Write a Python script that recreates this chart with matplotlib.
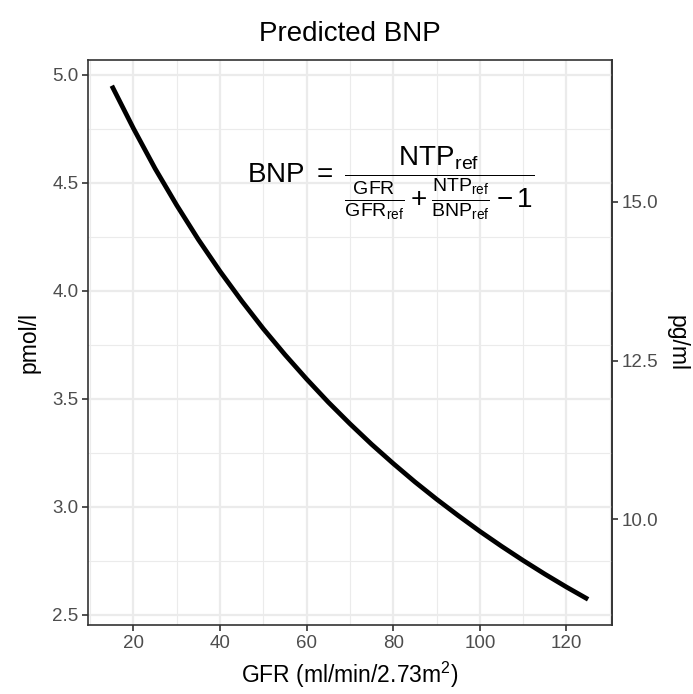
import numpy as np
import matplotlib
matplotlib.use("Agg")
import matplotlib.pyplot as plt
from matplotlib.ticker import MultipleLocator, FormatStrFormatter

plt.rcParams['font.family'] = ['Liberation Sans', 'DejaVu Sans']
plt.rcParams['mathtext.fontset'] = 'custom'
plt.rcParams['mathtext.rm'] = 'Liberation Sans'
plt.rcParams['mathtext.it'] = 'Liberation Sans'
plt.rcParams['mathtext.bf'] = 'Liberation Sans:bold'

# values
gfr = [15, 20, 25, 30, 35, 40, 45, 50, 55, 60, 65, 70,
       75, 80, 85, 90, 95, 100, 105, 110, 115, 120, 125]
bnp_pmol = [4.950, 4.752, 4.566, 4.396, 4.237, 4.090, 3.953, 3.824, 3.704, 3.591,
            3.484, 3.384, 3.289, 3.200, 3.115, 3.035, 2.959, 2.886, 2.817, 2.751,
            2.688, 2.628, 2.571]
pg_per_pmol = 3.4
pg_ticks = [10.0, 12.5, 15.0]

grey20 = '#333333'
grey30 = '#4d4d4d'
grid_col = '#ebebeb'

fig = plt.figure(figsize=(6.93, 6.94), dpi=100)
ax = fig.add_axes([0.127, 0.0994, 0.756, 0.8141])

ax.plot(gfr, bnp_pmol, color='black', lw=3.4, solid_capstyle='butt',
        solid_joinstyle='round', zorder=3)
ax.margins(0.05)

ax.xaxis.set_major_locator(MultipleLocator(20))
ax.xaxis.set_minor_locator(MultipleLocator(10))
ax.yaxis.set_major_locator(MultipleLocator(0.5))
ax.yaxis.set_minor_locator(MultipleLocator(0.25))
ax.yaxis.set_major_formatter(FormatStrFormatter('%.1f'))

ax.grid(which='major', color=grid_col, lw=1.6, zorder=0)
ax.grid(which='minor', color=grid_col, lw=0.8, zorder=0)
ax.set_axisbelow(True)
ax.tick_params(which='minor', length=0)
ax.tick_params(which='major', length=4, width=1.2, color=grey20,
               labelsize=13.5, labelcolor=grey30, pad=3)
for s in ax.spines.values():
    s.set_color(grey20)
    s.set_linewidth(1.2)

sec = ax.secondary_yaxis('right', functions=(lambda v: v * pg_per_pmol,
                                             lambda v: v / pg_per_pmol))
sec.set_yticks(pg_ticks)
sec.yaxis.set_major_formatter(FormatStrFormatter('%.1f'))
sec.tick_params(which='major', length=4, width=1.2, color=grey20,
                labelsize=13.5, labelcolor=grey30, pad=3)
sec.tick_params(which='minor', length=0)
sec.spines['right'].set_color(grey20)
sec.spines['right'].set_linewidth(1.2)
sec.set_ylabel('pg/ml', fontsize=16.5, rotation=-90, labelpad=22)

ax.set_xlabel(r'GFR (ml/min/2.73m$^{2}$)', fontsize=16.5, labelpad=6)
ax.set_ylabel('pmol/l', fontsize=16.5, labelpad=8)
ax.set_title('Predicted BNP', fontsize=20, pad=14)

formula = (r'$\mathrm{BNP}\ =\ \dfrac{\mathrm{NTP_{ref}}}'
           r'{\frac{\mathrm{GFR}}{\mathrm{GFR_{ref}}}+\frac{\mathrm{NTP_{ref}}}{\mathrm{BNP_{ref}}}-1}$')
ax.text(79.4, 4.50, formula, fontsize=20, ha='center', va='center')

fig.savefig('out.png', dpi=100)
